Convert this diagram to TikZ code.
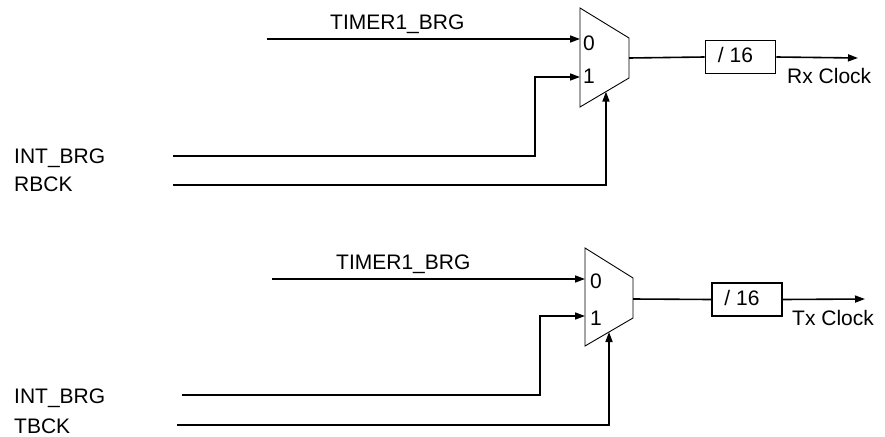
\documentclass[tikz,border=0pt]{standalone}
\usepackage{fontspec}
\setmainfont{Liberation Sans}
\usetikzlibrary{positioning, arrows.meta, calc}

\begin{document}
\begin{tikzpicture}[x=1pt, y=-1pt, >={Triangle[length=10pt, width=7pt]},
    font=\fontsize{21}{25}\selectfont]
  \tikzset{sig/.style={line width=1.6pt},
           muxline/.style={line width=0.9pt},
           divbox/.style={draw, line width=1.6pt, minimum width=70pt, inner xsep=0pt,
                          inner ysep=2pt, text height=20pt, text depth=9pt},
           lbl/.style={inner sep=0pt, anchor=base west}}
  \useasboundingbox (0,0) rectangle (885,436);

  % RX MUX
  \coordinate (rxtl) at (580,8);
  \coordinate (rxtr) at (629,38);
  \coordinate (rxbr) at (629,78);
  \coordinate (rxbl) at (580,107);
  \draw[muxline] (rxtl) -- (rxtr) -- (rxbr) -- (rxbl) -- cycle;
  \coordinate (rxin0) at (580,39);
  \coordinate (rxin1) at (580,77);
  \coordinate (rxout) at (629,58);
  \coordinate (rxsel) at ($(rxbl)!0.53!(rxbr)$);
  \node[lbl] (rxzero) at (583,50) {0};
  \node[lbl] (rxone) at (583,83) {1};

  % RX OUTPUT
  \node[divbox] (rxdiv) at (740.5,57) {/ 16\kern10pt};
  \coordinate (rxend) at (858,58);
  \node[lbl] (rxclk) at (787,83) {Rx Clock};
  \draw[sig] (rxout) -- (rxdiv.west);
  \draw[sig, ->] (rxdiv.east) -- (rxend);

  % RX INPUTS
  \node[lbl] (rxtimer) at (330,30) {TIMER1\_BRG};
  \node[lbl] (rxint) at (14,163) {INT\_BRG};
  \node[lbl] (rxbck) at (14,191) {RBCK};
  \coordinate (rxt) at (267,39);
  \coordinate (rxa) at (173,156);
  \coordinate (rxb) at (173,185);
  \draw[sig, ->] (rxt) -- (rxin0);
  \draw[sig, ->] (rxa) -| ($(rxin1)+(-45,0)$) -- (rxin1);
  \draw[sig, ->] (rxb) -| (rxsel);

  % TX MUX
  \coordinate (txtl) at (585,248);
  \coordinate (txtr) at (633,278);
  \coordinate (txbr) at (633,318);
  \coordinate (txbl) at (585,346);
  \draw[muxline] (txtl) -- (txtr) -- (txbr) -- (txbl) -- cycle;
  \coordinate (txin0) at (585,279);
  \coordinate (txin1) at (585,316);
  \coordinate (txout) at (633,299);
  \coordinate (txsel) at ($(txbl)!0.5!(txbr)$);
  \node[lbl] (txzero) at (590,288) {0};
  \node[lbl] (txone) at (590,325) {1};

  % TX OUTPUT
  \node[divbox] (txdiv) at (747,299.5) {/ 16\kern10pt};
  \coordinate (txend) at (865,299);
  \node[lbl] (txclk) at (792,325) {Tx Clock};
  \draw[sig] (txout) -- (txdiv.west);
  \draw[sig, ->] (txdiv.east) -- (txend);

  % TX INPUTS
  \node[lbl] (txtimer) at (336,269) {TIMER1\_BRG};
  \node[lbl] (txint) at (14,403) {INT\_BRG};
  \node[lbl] (txbck) at (14,433) {TBCK};
  \coordinate (txt) at (272,279);
  \coordinate (txa) at (182,395);
  \coordinate (txb) at (177,425);
  \draw[sig, ->] (txt) -- (txin0);
  \draw[sig, ->] (txa) -| ($(txin1)+(-45,0)$) -- (txin1);
  \draw[sig, ->] (txb) -| (txsel);
\end{tikzpicture}
\end{document}
